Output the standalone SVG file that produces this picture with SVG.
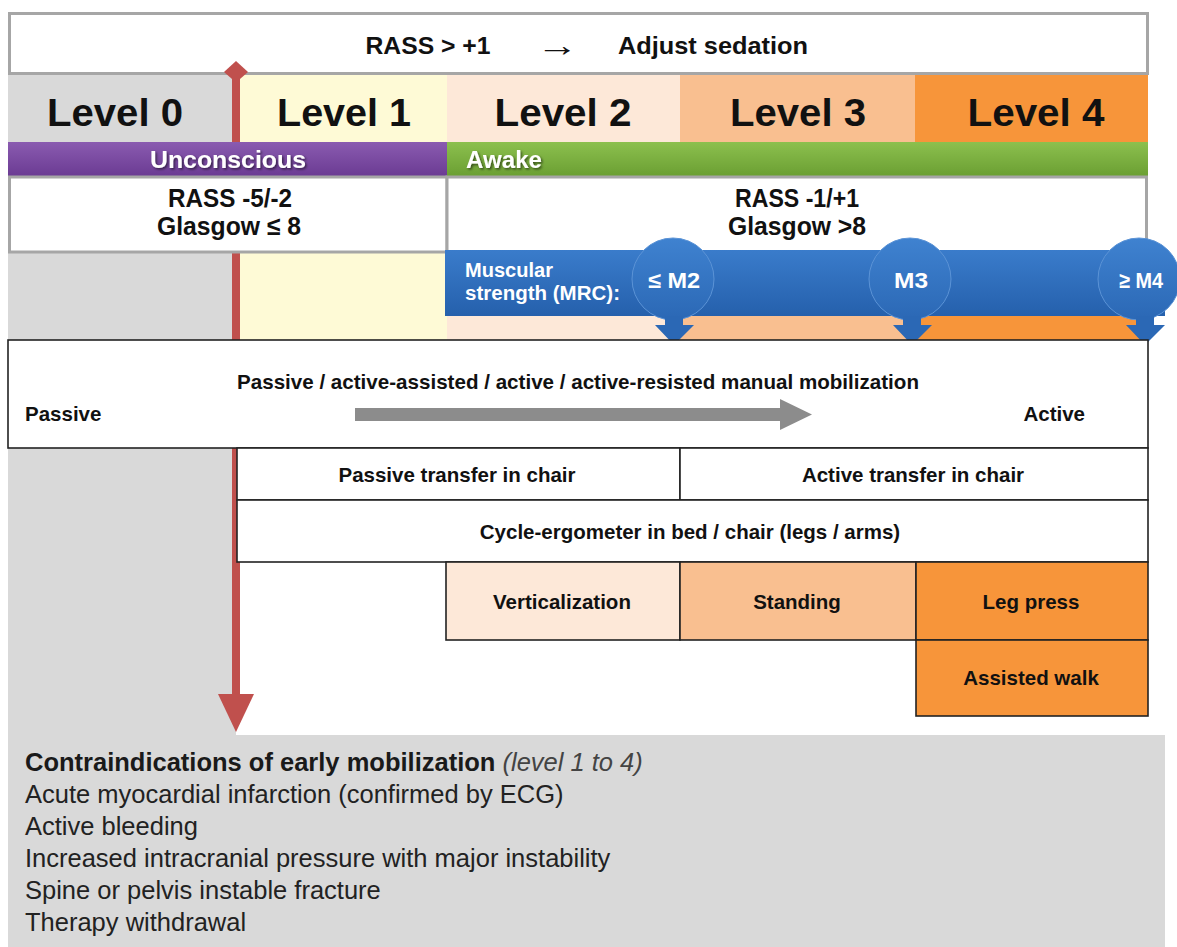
<svg xmlns="http://www.w3.org/2000/svg" width="1177" height="947" viewBox="0 0 1177 947">
<style>
text{font-family:"Liberation Sans",Arial,sans-serif;}
.b{font-weight:bold}
.c{text-anchor:middle}
.lvl{font-size:38px;font-weight:bold;fill:#111;text-anchor:middle}
.cell{stroke:#222;stroke-width:1.6}
.ct{font-size:20.5px;font-weight:bold;fill:#111;text-anchor:middle}
.st{font-size:26px;font-weight:bold;fill:#111;text-anchor:middle}
.wt{fill:#fff;font-weight:bold}
.sh{filter:url(#shadow)}
.ci{font-size:25.5px;fill:#222}
.red{fill:#c0504d}
</style>
<defs>
<linearGradient id="gPurple" x1="0" y1="0" x2="0" y2="1"><stop offset="0" stop-color="#8a5bb0"/><stop offset="1" stop-color="#6a3a92"/></linearGradient>
<linearGradient id="gGreen" x1="0" y1="0" x2="0" y2="1"><stop offset="0" stop-color="#8cc04e"/><stop offset="1" stop-color="#6a9e32"/></linearGradient>
<linearGradient id="gBlue" x1="0" y1="0" x2="0" y2="1"><stop offset="0" stop-color="#3a7ccb"/><stop offset="1" stop-color="#2560ac"/></linearGradient>
<linearGradient id="gCirc" x1="0" y1="0" x2="0" y2="1"><stop offset="0" stop-color="#3f82d0"/><stop offset="1" stop-color="#2b68b5"/></linearGradient>
<filter id="shadow" x="-10%" y="-30%" width="120%" height="160%"><feDropShadow dx="1.5" dy="1.5" stdDeviation="0.8" flood-color="#000" flood-opacity="0.55"/></filter>
</defs>

<g id="backgrounds">
<rect x="0" y="0" width="1177" height="947" fill="#fff"/>
<rect x="8" y="75" width="228" height="660" fill="#d9d9d9"/>
<rect x="236" y="75" width="211" height="265" fill="#fefad6"/>
<rect x="447" y="75" width="233" height="265" fill="#fde8d8"/>
<rect x="680" y="75" width="235" height="265" fill="#f9bf90"/>
<rect x="915" y="75" width="233" height="265" fill="#f7953a"/>
<rect x="8" y="735" width="1157" height="212" fill="#d9d9d9"/>
</g>

<g id="top-box">
<rect x="9.5" y="13.5" width="1138" height="60" fill="#fff" stroke="#a6a6a6" stroke-width="3"/>
<text x="428" y="54" class="b c" font-size="24.5" fill="#111" textLength="125" lengthAdjust="spacingAndGlyphs">RASS &gt; +1</text>
<text x="557" y="56" class="b c" font-size="32" fill="#111" textLength="42" lengthAdjust="spacingAndGlyphs">→</text>
<text x="713" y="54" class="b c" font-size="24.5" fill="#111" textLength="190" lengthAdjust="spacingAndGlyphs">Adjust sedation</text>
</g>

<g id="red-arrow">
<rect x="232" y="74" width="8" height="622" class="red"/>
<polygon points="236,61 248,72 240,79 232,79 224,72" class="red"/>
<polygon points="218,694 254,694 236,732" class="red"/>
</g>

<g id="levels">
<text x="115" y="126" class="lvl" textLength="136" lengthAdjust="spacingAndGlyphs">Level 0</text>
<text x="344" y="126" class="lvl" textLength="134" lengthAdjust="spacingAndGlyphs">Level 1</text>
<text x="563" y="126" class="lvl" textLength="137" lengthAdjust="spacingAndGlyphs">Level 2</text>
<text x="798" y="126" class="lvl" textLength="136" lengthAdjust="spacingAndGlyphs">Level 3</text>
<text x="1036" y="126" class="lvl" textLength="137" lengthAdjust="spacingAndGlyphs">Level 4</text>
</g>

<g id="unconscious">
<rect x="8" y="142" width="439" height="35" fill="url(#gPurple)"/>
<text x="228" y="168" class="wt c sh" font-size="24" textLength="156" lengthAdjust="spacingAndGlyphs">Unconscious</text>
<rect x="9.5" y="177" width="437.5" height="75" fill="#fff" stroke="#a6a6a6" stroke-width="3"/>
<text x="230" y="207" class="st" textLength="124" lengthAdjust="spacingAndGlyphs">RASS -5/-2</text>
<text x="229" y="235" class="st" textLength="144" lengthAdjust="spacingAndGlyphs">Glasgow ≤ 8</text>
</g>

<g id="awake">
<rect x="447" y="142" width="701" height="35" fill="url(#gGreen)"/>
<text x="466" y="168" class="wt sh" font-size="24" textLength="76" lengthAdjust="spacingAndGlyphs">Awake</text>
<rect x="447" y="177" width="699.5" height="78" fill="#fff" stroke="#a6a6a6" stroke-width="3"/>
<text x="797" y="207" class="st" textLength="124" lengthAdjust="spacingAndGlyphs">RASS -1/+1</text>
<text x="797" y="235" class="st" textLength="138" lengthAdjust="spacingAndGlyphs">Glasgow &gt;8</text>
</g>

<g id="muscular-strength">
<rect x="445" y="250" width="720" height="66" fill="url(#gBlue)"/>
<g fill="url(#gCirc)" stroke="#5b93d6" stroke-width="1">
<circle cx="673" cy="279" r="41"/>
<circle cx="910" cy="279" r="41"/>
<circle cx="1139" cy="279" r="41"/>
</g>
<g fill="#2b68b5">
<polygon points="665,316 683,316 683,325 694,325 674,345 655,325 665,325"/>
<polygon points="903,316 921,316 921,325 932,325 912,345 893,325 903,325"/>
<polygon points="1136,316 1154,316 1154,325 1165,325 1145,345 1126,325 1136,325"/>
</g>
<text x="465" y="277" class="wt" font-size="19.5" textLength="88" lengthAdjust="spacingAndGlyphs">Muscular</text>
<text x="465" y="300" class="wt" font-size="19.5" textLength="155" lengthAdjust="spacingAndGlyphs">strength (MRC):</text>
<text x="674" y="288" class="wt c" font-size="22" textLength="52" lengthAdjust="spacingAndGlyphs">≤ M2</text>
<text x="911" y="288" class="wt c" font-size="22" textLength="34" lengthAdjust="spacingAndGlyphs">M3</text>
<text x="1141" y="288" class="wt c" font-size="22" textLength="44" lengthAdjust="spacingAndGlyphs">≥ M4</text>
</g>

<g id="manual-mobilization">
<rect x="8" y="340" width="1140" height="108" fill="#fff" class="cell" stroke-width="2"/>
<text x="578" y="389" class="ct" textLength="682" lengthAdjust="spacingAndGlyphs">Passive / active-assisted / active / active-resisted manual mobilization</text>
<text x="25" y="421" class="b" font-size="20.5" fill="#111">Passive</text>
<text x="1085" y="421" class="b" font-size="20.5" fill="#111" text-anchor="end">Active</text>
<rect x="355" y="408" width="428" height="13" fill="#8c8c8c"/>
<polygon points="780,399 812,414.5 780,430" fill="#8c8c8c"/>
</g>

<g id="transfer">
<rect x="237" y="448" width="443" height="52" fill="#fff" class="cell"/>
<text x="457" y="482" class="ct">Passive transfer in chair</text>
<rect x="680" y="448" width="468" height="52" fill="#fff" class="cell"/>
<text x="913" y="482" class="ct">Active transfer in chair</text>
</g>

<g id="cycle-ergometer">
<rect x="237" y="500" width="911" height="62" fill="#fff" class="cell"/>
<text x="690" y="539" class="ct">Cycle-ergometer in bed / chair (legs / arms)</text>
</g>

<g id="verticalization">
<rect x="446" y="562" width="234" height="78" fill="#fde8d8" class="cell"/>
<text x="562" y="609" class="ct">Verticalization</text>
</g>
<g id="standing">
<rect x="680" y="562" width="236" height="78" fill="#f9bf90" class="cell"/>
<text x="797" y="609" class="ct">Standing</text>
</g>
<g id="leg-press">
<rect x="916" y="562" width="232" height="78" fill="#f7953a" class="cell"/>
<text x="1031" y="609" class="ct">Leg press</text>
</g>
<g id="assisted-walk">
<rect x="916" y="640" width="232" height="76" fill="#f7953a" class="cell"/>
<text x="1031" y="685" class="ct">Assisted walk</text>
</g>

<g id="contraindications">
<text x="25" y="771" class="ci"><tspan font-weight="bold" fill="#1a1a1a">Contraindications of early mobilization</tspan> <tspan font-style="italic" fill="#444">(level 1 to 4)</tspan></text>
<text x="25" y="803" class="ci">Acute myocardial infarction (confirmed by ECG)</text>
<text x="25" y="835" class="ci">Active bleeding</text>
<text x="25" y="867" class="ci">Increased intracranial pressure with major instability</text>
<text x="25" y="899" class="ci">Spine or pelvis instable fracture</text>
<text x="25" y="931" class="ci">Therapy withdrawal</text>
</g>
</svg>
